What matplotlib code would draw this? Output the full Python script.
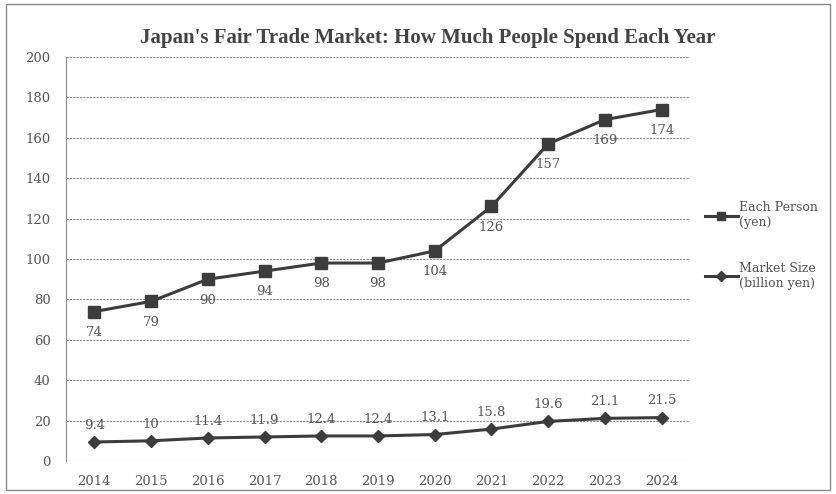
import numpy as np
import matplotlib
matplotlib.use('Agg')
from matplotlib import pyplot as plt
from matplotlib.patches import Rectangle

years = ['2014', '2015', '2016', '2017', '2018', '2019', '2020',
         '2021', '2022', '2023', '2024']
each_person = [74, 79, 90, 94, 98, 98, 104, 126, 157, 169, 174]
market_size = [9.4, 10, 11.4, 11.9, 12.4, 12.4, 13.1, 15.8, 19.6, 21.1, 21.5]
market_labels = ['9.4', '10', '11.4', '11.9', '12.4', '12.4', '13.1',
                 '15.8', '19.6', '21.1', '21.5']

plt.rcParams['font.family'] = ['DejaVu Serif']

line_col = '#3c3c3c'
text_col = '#555555'

fig = plt.figure(figsize=(8.36, 4.94), dpi=100)
ax = fig.add_axes([66 / 836, 1 - 461 / 494, 624 / 836, 404 / 494])

x = np.arange(len(years))

ax.plot(x, each_person, color=line_col, lw=2.2, marker='s', ms=8,
        label='Each Person\n(yen)')
ax.plot(x, market_size, color=line_col, lw=2.2, marker='D', ms=6.5,
        label='Market Size\n(billion yen)')

for i in range(len(years)):
    ax.annotate(str(each_person[i]), (x[i], each_person[i]),
                xytext=(0, -15), textcoords='offset points',
                ha='center', va='center', fontsize=9.5, color=text_col)
    ax.annotate(market_labels[i], (x[i], market_size[i]),
                xytext=(0, 12), textcoords='offset points',
                ha='center', va='center', fontsize=9.5, color=text_col)

ax.set_xlim(-0.5, len(years) - 0.5)
ax.set_ylim(0, 200)
ax.set_yticks(np.arange(0, 201, 20))
ax.set_xticks(x)
ax.set_xticklabels(years)
ax.tick_params(length=0, labelsize=9.5, labelcolor=text_col, pad=10)
ax.tick_params(axis='y', pad=11)
ax.grid(axis='y', color='#8a8a8a', ls=(0, (2, 1)), lw=0.8)
for s in ['top', 'right', 'bottom']:
    ax.spines[s].set_visible(False)
ax.spines['left'].set_color('#8a8a8a')
ax.spines['left'].set_linestyle((0, (2, 1)))
ax.spines['left'].set_linewidth(0.8)

leg = ax.legend(loc='upper left', bbox_to_anchor=(1.0, 0.68), frameon=False,
                fontsize=9, handlelength=2.6, labelspacing=2.6,
                handletextpad=0.1, borderaxespad=0.8, markerscale=0.75)
for t in leg.get_texts():
    t.set_color(text_col)

fig.text(428 / 836, 1 - 38 / 494,
         "Japan's Fair Trade Market: How Much People Spend Each Year",
         ha='center', va='center', fontsize=15, fontweight='bold',
         color='#444444', family='Liberation Serif')

fig.patches.append(Rectangle((6 / 836, 4 / 494), 824 / 836, 486 / 494,
                             transform=fig.transFigure, fill=False,
                             edgecolor='#8a8a8a', lw=1))

fig.savefig('out.png', dpi=100)
